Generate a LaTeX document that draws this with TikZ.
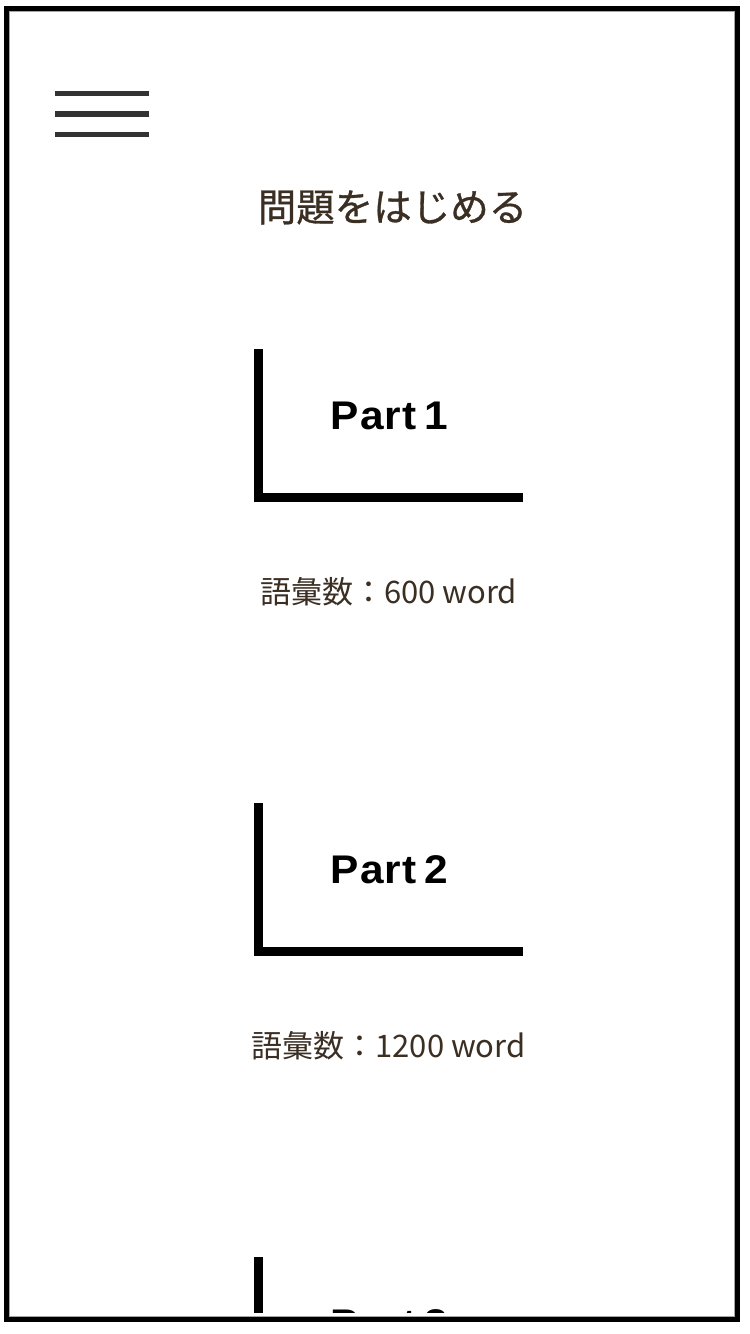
\documentclass[tikz,border=0pt]{standalone}
\usepackage{fontspec}
\newfontfamily\cjk{Noto Sans CJK JP}
\newfontfamily\cjkmed[FakeBold=0.8]{Noto Sans CJK JP}
\newfontfamily\partfont[FakeStretch=1.06,LetterSpace=3,WordSpace=0.6]{Liberation Sans}
\definecolor{ink}{HTML}{3B2F24}
\definecolor{bar}{HTML}{333333}
\tikzset{
  x=1pt,y=-1pt,
  burger/.style={draw=bar,line width=5.5pt,line cap=butt},
  ell/.style={draw=black,line width=9pt,line join=miter,line cap=butt},
  partlbl/.style={anchor=base west,inner sep=0pt,font=\partfont\bfseries\fontsize{40}{40}\selectfont,text=black},
  vocab/.style={inner sep=0pt,font=\cjk\fontsize{31}{31}\selectfont,text=ink},
  titlelbl/.style={inner sep=0pt,font=\cjkmed\fontsize{38.5}{38.5}\selectfont,text=ink}
}
\begin{document}
\begin{tikzpicture}
\useasboundingbox[fill=white] (0,0) rectangle (750,1334);
% hamburger
\draw[burger] (55,93.3) -- (149,93.3);
\draw[burger] (55,114) -- (149,114);
\draw[burger] (55,134.5) -- (149,134.5);
% title
\node[titlelbl] (title) at (392.5,207.5) {問題をはじめる};
\begin{scope}
\clip (9,11) rectangle (736,1312);
% part 1
\coordinate (p1top) at (258.5,349);
\coordinate (p1corner) at (258.5,497.5);
\coordinate (p1end) at (523,497.5);
\draw[ell] (p1top) -- (p1corner) -- (p1end);
\node[partlbl] (part1) at (330.5,429) {Part 1};
\node[vocab] (voc1) at (388.5,591.5) {語彙数：600 word};
% part 2
\coordinate (p2top) at (258.5,803);
\coordinate (p2corner) at (258.5,951.5);
\coordinate (p2end) at (523,951.5);
\draw[ell] (p2top) -- (p2corner) -- (p2end);
\node[partlbl] (part2) at (330.5,883) {Part 2};
\node[vocab] (voc2) at (388.5,1046) {語彙数：1200 word};
% part 3
\coordinate (p3top) at (258.5,1257);
\coordinate (p3corner) at (258.5,1405.5);
\draw[ell] (p3top) -- (p3corner);
\node[partlbl] (part3) at (330.5,1337) {Part 3};
\end{scope}
% frame
\draw[draw=gray!70,line width=1.2pt] (9.8,11.6) rectangle (735,1316.5);
\draw[draw=black,line width=5pt] (6.5,8.5) rectangle (737.8,1319.8);
\end{tikzpicture}
\end{document}
